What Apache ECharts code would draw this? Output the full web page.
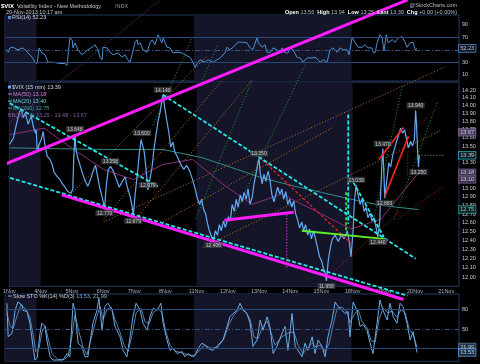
<!DOCTYPE html>
<html><head><meta charset="utf-8">
<script src="https://cdn.jsdelivr.net/npm/echarts@6/dist/echarts.min.js"></script>
<style>html,body{margin:0;padding:0;background:#000;}#c{width:480px;height:364px;}</style>
</head><body><div id="c"></div>
<script>
// ---------------- DATA ----------------
const dayLabels = ['1Nov','4Nov','5Nov','6Nov','7Nov','8Nov','11Nov','12Nov','13Nov','14Nov','15Nov','18Nov','19Nov','20Nov','21Nov'];
const shadedWeeks = [[0,1],[6,11]];
const priceTicks = [12.0,12.1,12.2,12.3,12.4,12.5,12.6,12.7,12.8,12.9,13.0,13.1,13.2,13.3,13.4,13.5,13.6,13.7,13.8,13.9,14.0,14.1,14.2];

// $VIX 15-min closes: [trading-day position, value]
const price = [
[0.00,13.52],[0.06,13.54],[0.13,13.60],[0.22,13.76],[0.32,13.92],[0.38,13.96],[0.44,13.85],[0.51,13.91],[0.60,13.77],[0.70,13.87],[0.76,13.75],[0.83,13.66],[0.86,13.70],[0.89,13.43],[0.95,13.52],
[1.02,13.58],[1.08,13.68],[1.14,13.51],[1.21,13.38],[1.30,13.34],[1.37,13.28],[1.43,13.19],[1.52,13.14],[1.62,13.10],[1.68,13.06],[1.78,13.01],[1.87,12.96],[1.97,12.94],
[2.03,12.99],[2.06,13.34],[2.10,13.648],[2.13,13.46],[2.19,13.36],[2.25,13.29],[2.32,13.20],[2.41,13.10],[2.51,13.02],[2.60,13.10],[2.70,13.22],[2.76,13.27],[2.83,13.13],[2.89,13.01],[2.95,12.93],
[3.05,12.77],[3.11,13.05],[3.17,13.22],[3.24,13.258],[3.33,13.20],[3.43,13.10],[3.52,13.01],[3.62,13.08],[3.71,13.13],[3.78,13.01],[3.87,12.90],[3.94,12.77],[3.97,12.679],
[4.03,12.93],[4.10,13.16],[4.16,13.40],[4.22,13.58],[4.25,13.60],[4.32,13.43],[4.38,13.22],[4.44,12.979],[4.51,13.12],[4.57,13.24],[4.63,13.46],[4.70,13.64],[4.76,13.80],[4.83,13.92],[4.89,14.07],[4.92,14.14],
[4.98,13.97],[5.05,13.80],[5.11,13.67],[5.17,13.49],[5.24,13.55],[5.30,13.43],[5.40,13.36],[5.49,13.28],[5.59,13.22],[5.68,13.27],[5.78,13.20],[5.87,13.10],[5.94,13.01],
[6.03,12.87],[6.10,12.81],[6.16,12.87],[6.22,12.76],[6.29,12.70],[6.35,12.59],[6.41,12.51],[6.48,12.44],[6.54,12.406],[6.60,12.51],[6.67,12.46],[6.73,12.58],[6.79,12.51],[6.86,12.62],[6.92,12.55],
[7.02,12.67],[7.08,12.62],[7.14,12.81],[7.21,12.73],[7.27,12.87],[7.33,12.78],[7.40,12.92],[7.46,12.84],[7.52,12.95],[7.59,12.87],[7.65,12.99],[7.71,12.81],[7.78,12.89],[7.84,13.05],[7.90,13.16],
[7.97,13.31],[8.00,13.35],[8.03,13.20],[8.10,13.05],[8.16,13.16],[8.22,13.08],[8.29,13.20],[8.35,13.10],[8.41,12.93],[8.48,12.84],[8.54,12.93],[8.60,13.01],[8.67,12.93],[8.73,12.99],[8.79,12.87],[8.86,12.96],[8.92,12.81],[8.98,12.87],
[9.05,12.78],[9.11,12.85],[9.17,12.71],[9.24,12.63],[9.30,12.54],[9.37,12.61],[9.43,12.51],[9.49,12.58],[9.56,12.46],[9.62,12.53],[9.68,12.42],[9.75,12.51],[9.81,12.42],[9.87,12.33],[9.94,12.22],
[10.00,12.18],[10.06,12.10],[10.13,12.03],[10.16,11.958],[10.22,12.18],[10.29,12.33],[10.35,12.42],[10.44,12.46],[10.54,12.39],[10.63,12.46],[10.73,12.42],[10.83,12.51],[10.89,12.39],[10.95,12.22],
[11.02,12.53],[11.05,12.81],[11.11,13.039],[11.17,12.93],[11.24,12.81],[11.30,12.87],[11.37,12.73],[11.43,12.78],[11.49,12.66],[11.56,12.71],[11.62,12.62],[11.68,12.66],[11.75,12.55],[11.81,12.44],[11.87,12.62],[11.90,12.95],[11.94,13.30],
[11.97,13.47],[12.00,13.20],[12.03,12.883],[12.10,13.10],[12.16,13.30],[12.22,13.25],[12.29,13.40],[12.35,13.48],[12.41,13.56],[12.48,13.64],[12.54,13.72],[12.60,13.66],[12.67,13.70],[12.73,13.58],[12.79,13.48],[12.86,13.56],[12.92,13.50],[12.98,13.58],
[13.02,13.94],[13.05,13.76],[13.08,13.46],[13.11,13.25],[13.14,13.39]
];
const ma50 = [[0.00,13.64],[1.11,13.72],[2.06,13.46],[3.02,13.22],[3.97,13.10],[4.92,13.28],[5.87,13.34],[6.83,13.05],[7.78,12.81],[8.73,12.93],[10.00,12.70],[10.95,12.53],[11.90,12.64],[13.11,13.18]];
const ma200 = [[0.00,13.48],[1.43,13.47],[3.02,13.46],[4.92,13.46],[6.19,13.36],[7.14,13.24],[8.10,13.12],[9.05,13.03],[10.00,12.95],[10.95,12.87],[11.90,12.80],[13.11,12.75]];

const rsi = [
[0.06,50],[0.10,46],[0.16,53],[0.25,54],[0.41,50],[0.57,53],[0.73,45],[0.86,38],[0.95,30],[1.02,28],[1.08,53],[1.17,45],[1.27,42],[1.37,30],[1.52,30],[1.75,28],[1.90,28],[1.97,25],[2.00,28],
[2.06,69],[2.13,66],[2.16,53],[2.22,61],[2.32,50],[2.44,42],[2.54,46],[2.63,50],[2.76,54],[2.86,58],[2.95,50],[3.02,38],[3.08,34],[3.11,54],[3.24,53],[3.33,46],[3.43,42],[3.59,45],[3.71,38],[3.81,42],[3.90,34],[3.97,30],
[4.03,42],[4.13,62],[4.19,66],[4.22,58],[4.29,61],[4.38,50],[4.51,46],[4.60,61],[4.67,66],[4.76,58],[4.86,74],[4.92,71],[4.98,61],[5.02,69],[5.14,54],[5.24,53],[5.33,45],[5.46,46],[5.62,45],[5.71,42],[5.87,38],[5.97,30],
[6.03,22],[6.10,28],[6.19,34],[6.35,30],[6.44,34],[6.60,30],[6.83,37],[6.98,45],[7.05,54],[7.14,50],[7.24,54],[7.40,62],[7.46,61],[7.56,62],[7.68,61],[7.78,53],[7.87,50],
[8.00,70],[8.03,62],[8.16,54],[8.25,58],[8.32,46],[8.41,45],[8.51,53],[8.63,50],[8.73,46],[8.79,53],[8.89,45],[8.98,45],[9.05,53],[9.14,50],[9.27,38],[9.37,37],[9.46,30],[9.59,37],[9.75,37],[9.84,38],[9.94,34],
[10.00,30],[10.10,34],[10.22,30],[10.32,50],[10.41,53],[10.54,46],[10.63,53],[10.73,50],[10.86,50],[10.92,42],[11.02,70],[11.11,62],[11.21,54],[11.33,54],[11.43,58],[11.52,53],[11.65,53],[11.68,46],[11.75,46],[11.81,61],[11.90,74],[11.97,70],
[12.00,58],[12.03,48],[12.10,74],[12.16,61],[12.29,66],[12.38,62],[12.48,69],[12.60,71],[12.70,62],[12.76,54],[12.86,61],[12.95,62],[13.02,50],[13.08,52.23]
];

const stochK = [
[0.06,90],[0.10,38],[0.22,43],[0.32,79],[0.41,92],[0.54,87],[0.57,79],[0.70,77],[0.79,59],[0.89,23],[0.95,2],[1.02,5],[1.11,43],[1.17,59],[1.27,54],[1.33,33],[1.43,7],[1.52,2],[1.68,2],[1.84,2],[1.97,12],
[2.06,7],[2.16,90],[2.22,79],[2.32,28],[2.44,23],[2.54,7],[2.63,7],[2.79,59],[2.92,79],[2.98,98],[3.08,48],[3.17,85],[3.27,90],[3.40,79],[3.49,54],[3.65,38],[3.75,17],[3.87,7],[3.97,38],
[4.06,69],[4.16,90],[4.29,79],[4.38,59],[4.51,48],[4.60,69],[4.70,82],[4.83,79],[4.95,90],[5.02,59],[5.14,33],[5.24,17],[5.33,20],[5.46,12],[5.62,15],[5.71,7],[5.81,12],[5.94,7],
[6.03,9],[6.13,20],[6.25,28],[6.35,25],[6.44,20],[6.60,17],[6.76,25],[6.92,33],[7.05,54],[7.14,69],[7.24,74],[7.37,79],[7.46,90],[7.56,79],[7.68,74],[7.78,59],[7.87,23],
[8.00,33],[8.10,64],[8.19,48],[8.32,69],[8.41,54],[8.51,12],[8.63,23],[8.79,43],[8.89,54],[8.98,17],[9.11,74],[9.21,23],[9.30,17],[9.43,7],[9.52,28],[9.62,17],[9.75,38],[9.84,12],[9.94,33],
[10.06,23],[10.16,7],[10.25,38],[10.38,64],[10.48,92],[10.57,85],[10.70,79],[10.79,74],[10.89,77],[10.95,38],[11.05,92],[11.17,79],[11.27,54],[11.37,57],[11.49,48],[11.59,28],[11.68,12],[11.81,59],[11.90,95],
[12.00,79],[12.13,64],[12.22,90],[12.32,69],[12.44,59],[12.54,90],[12.63,85],[12.76,59],[12.86,33],[12.95,46],[13.08,13.53]
];
const stochD = [
[0.06,75],[0.16,55],[0.25,50],[0.38,70],[0.51,88],[0.67,80],[0.79,68],[0.89,42],[0.98,15],[1.08,20],[1.17,45],[1.27,55],[1.37,35],[1.49,12],[1.68,3],[1.87,3],[2.00,8],
[2.13,40],[2.22,72],[2.35,45],[2.48,22],[2.60,10],[2.76,40],[2.92,70],[3.02,85],[3.11,65],[3.24,80],[3.37,84],[3.49,65],[3.65,45],[3.78,25],[3.90,15],
[4.03,40],[4.16,75],[4.32,82],[4.44,62],[4.57,58],[4.70,75],[4.86,82],[4.98,75],[5.11,45],[5.24,25],[5.40,16],[5.62,13],[5.81,10],
[6.00,9],[6.19,18],[6.35,25],[6.54,20],[6.76,22],[6.95,35],[7.11,58],[7.27,72],[7.46,82],[7.62,78],[7.78,65],[7.90,38],
[8.03,35],[8.16,52],[8.32,62],[8.44,45],[8.57,25],[8.79,38],[8.92,42],[9.05,45],[9.17,45],[9.30,25],[9.46,12],[9.59,20],[9.75,28],[9.87,22],
[10.00,25],[10.16,15],[10.29,28],[10.41,55],[10.54,82],[10.70,84],[10.86,76],[10.95,60],[11.08,72],[11.21,80],[11.33,62],[11.49,52],[11.62,32],[11.75,30],[11.87,65],
[12.00,82],[12.16,75],[12.29,78],[12.44,68],[12.57,80],[12.70,75],[12.83,50],[12.95,42],[13.08,21.99]
];

// marked swing points: [position, value, text, side]
const swingLabels = [
[4.92,14.14,'14.140','up'],[2.10,13.648,'13.648','up'],[4.25,13.60,'13.600','up'],[3.24,13.258,'13.258','up'],
[4.44,12.979,'12.979','up'],[3.05,12.77,'12.770','down'],[3.97,12.679,'12.679','down'],[6.54,12.406,'12.406','down'],
[8.00,13.35,'13.350','up'],[10.16,11.958,'11.958','down'],[11.11,13.039,'13.039','up'],[11.97,13.47,'13.470','up'],
[12.03,12.883,'12.883','down'],[13.02,13.94,'13.940','up'],[13.11,13.25,'13.250','down'],[11.81,12.44,'12.440','down']
];
// current indicator values shown on the price scale
const mainBoxes = [[13.67,'bb'],[13.18,'ma'],[13.10,'ma'],[12.75,'ma200'],[13.39,'last']];
const lastPrice = 13.39;
const rsiLast = 52.23;
const stochLast = [21.99, 13.53];

// hand-drawn annotation lines, endpoints in [position, value]
const magentaLines = [[[-0.16,13.28],[12.76,15.40]],[[1.68,12.92],[12.63,11.76]],[[6.89,12.63],[9.11,12.72]]];
const magentaDotted = [[[8.89,12.72],[8.89,12.08]]];
const purpleDotted = [[[-0.16,13.73],[4.83,15.40]],[[-0.16,15.03],[0.48,15.40]]];
const cyanDashed = [[[4.92,14.14],[13.02,12.20]],[[-0.16,14.07],[4.76,13.02]],[[-0.16,13.14],[12.76,11.80]],[[10.86,13.89],[10.86,12.59]],[[11.02,13.07],[12.00,12.44]]];
const greenSolid = [[[9.37,12.51],[12.00,12.42]]];
const greenDashed = [[[10.79,12.95],[10.79,12.51]]];
const greenDotted = [[[5.97,12.64],[7.78,14.33]],[[7.14,12.64],[9.52,14.56]],[[11.68,12.64],[12.60,14.26]],[[12.32,12.64],[13.71,14.04]],[[4.60,13.76],[5.87,14.89]],[[6.19,14.33],[6.67,14.79]]];
const orangeDotted = [[[3.02,12.61],[13.97,14.50]],[[6.19,12.32],[13.81,13.69]],[[3.97,12.61],[7.78,14.33]],[[1.97,12.93],[6.35,14.65]],[[3.02,12.64],[6.83,14.33]],[[4.92,12.61],[10.32,13.72]]];
const redSolid = [[[12.03,12.90],[12.79,13.62]],[[11.84,13.34],[12.63,13.73]]];
const redDashed = [[[8.00,13.37],[10.95,12.37]]];
const redDotted = [[[10.41,12.06],[12.54,12.74]],[[12.44,12.64],[13.87,13.01]],[[12.70,13.62],[13.43,13.86]],[[12.76,13.41],[12.76,13.15]]];
const lastPriceLine = [[13.11,13.39],[13.97,13.39]];

// ---------------- CHART ----------------
const L = Math.log;
const FONT = 'Liberation Sans';
const frame = '#243a62';
const band = '#15152a';
const axisTxt = '#c6ccd6';
const chart = echarts.init(document.getElementById('c'), null, {renderer:'canvas', width:480, height:364});

const xAxes = [0,1,2].map(i => ({
  type:'value', gridIndex:i, min:0, max:14.41, interval:1,
  axisLine:{show:false}, axisTick:{show:false}, splitLine:{show:false},
  axisLabel:{show:i===1, formatter:v=>dayLabels[Math.round(v)]||'', fontSize:5.5, fontFamily:FONT, color:'#a9b1bd', margin:2}
}));
const yAxes = [
  {type:'value', gridIndex:0, position:'right', min:0, max:105.6, interval:10,
   axisLine:{show:true, lineStyle:{color:frame}}, axisTick:{show:false}, splitLine:{show:false},
   axisLabel:{formatter:v=>(v%20===10?String(v):''), fontSize:5.5, fontFamily:FONT, color:axisTxt, margin:3}},
  {type:'value', gridIndex:1, position:'right', min:L(11.9), max:L(14.3),
   axisLine:{show:true, lineStyle:{color:frame}}, axisTick:{show:false}, splitLine:{show:false},
   axisLabel:{customValues:priceTicks.map(L), formatter:v=>Math.exp(v).toFixed(2), fontSize:5.5, fontFamily:FONT, color:axisTxt, margin:3}},
  {type:'value', gridIndex:2, position:'right', min:0, max:104.3, interval:10,
   axisLine:{show:true, lineStyle:{color:frame}}, axisTick:{show:false}, splitLine:{show:false},
   axisLabel:{formatter:v=>((v===20||v===50||v===80)?String(v):''), fontSize:5.5, fontFamily:FONT, color:axisTxt, margin:3}}
];

const series = [];
[0,1,2].forEach(i => series.push({
  type:'line', xAxisIndex:i, yAxisIndex:i, data:[[0,i===1?L(13):50]], symbol:'none', lineStyle:{opacity:0}, silent:true, z:0,
  markArea:{silent:true, itemStyle:{color:band}, data:shadedWeeks.map(w=>[{xAxis:w[0]},{xAxis:w[1]}])}
}));
function refLines(i, solid, dashed){
  series.push({type:'line', xAxisIndex:i, yAxisIndex:i, data:[], symbol:'none', silent:true, z:1,
    markLine:{silent:true, symbol:'none', label:{show:false}, animation:false,
      data: solid.map(v=>({yAxis:v, lineStyle:{color:'#2b4a7c', type:'solid', width:1}}))
        .concat(dashed.map(v=>({yAxis:v, lineStyle:{color:'#34537f', type:[5,2,1,2], width:1}})))}});
}
refLines(0,[70,30],[50]);
refLines(2,[80,20],[50]);

series.push({type:'line', xAxisIndex:0, yAxisIndex:0, data:rsi, symbol:'none', silent:true, z:3, lineStyle:{color:'#4b90d2', width:1}});
series.push({type:'line', xAxisIndex:2, yAxisIndex:2, data:stochD, symbol:'none', silent:true, z:3, lineStyle:{color:'#5d7fa8', width:1}});
series.push({type:'line', xAxisIndex:2, yAxisIndex:2, data:stochK, symbol:'none', silent:true, z:3, lineStyle:{color:'#6aaee8', width:1}});

function mainLine(pts, style, z){
  series.push({type:'line', xAxisIndex:1, yAxisIndex:1, data:pts.map(p=>[p[0], L(p[1])]), symbol:'none', silent:true, clip:false, z:z, lineStyle:style});
}
orangeDotted.forEach(s=>mainLine(s,{color:'#c5741c', width:1, type:[1,2]},2));
greenDotted.forEach(s=>mainLine(s,{color:'#1f9e2c', width:1, type:[1,2]},2));
purpleDotted.forEach(s=>mainLine(s,{color:'#9a2aa8', width:1, type:[1,2]},2));
redDotted.forEach(s=>mainLine(s,{color:'#c21a1a', width:1, type:[1,2]},2));
mainLine(ma200,{color:'#2e8c8c', width:1},3);
mainLine(ma50,{color:'#8a2f76', width:1},3);
mainLine(price,{color:'#64aaf0', width:1.2},4);
mainLine(lastPriceLine,{color:'#9aa0a8', width:1, type:[1,2]},4);
redDashed.forEach(s=>mainLine(s,{color:'#e42222', width:1.3, type:[3,2]},5));
redSolid.forEach(s=>mainLine(s,{color:'#ff2424', width:1.6},5));
greenSolid.forEach(s=>mainLine(s,{color:'#5cf02e', width:1.8},5));
greenDashed.forEach(s=>mainLine(s,{color:'#3cff3c', width:1.5, type:[3,2]},5));
magentaDotted.forEach(s=>mainLine(s,{color:'#ff33ff', width:1.2, type:[1,2]},5));
cyanDashed.forEach(s=>mainLine(s,{color:'#26e8e8', width:1.8, type:[4,2]},6));
magentaLines.forEach(s=>mainLine(s,{color:'#ff1cff', width:3},7));

series.push({type:'scatter', xAxisIndex:1, yAxisIndex:1, symbolSize:0, silent:true, clip:false, z:9,
  data: swingLabels.map(s=>({value:[s[0], L(s[1])], label:{show:true, formatter:s[2], position:s[3]==='up'?'top':'bottom', distance:2,
    fontSize:5, fontFamily:FONT, color:'#e8e8e8', backgroundColor:'#3b3d42', padding:[1,1.5,0,1.5]}}))});

const boxStyle = {
  bb:{backgroundColor:'#5a4a72', borderColor:'#7d6a99', color:'#f0eaf8'},
  ma:{backgroundColor:'#4a3a5c', borderColor:'#6c5a84', color:'#efe8f6'},
  ma200:{backgroundColor:'#0c2a2c', borderColor:'#2e9a9a', color:'#bfeeee'},
  last:{backgroundColor:'#0a1622', borderColor:'#35c6d6', color:'#e8f6ff'}
};
const boxX = 14.67;
series.push({type:'scatter', xAxisIndex:1, yAxisIndex:1, symbolSize:0, silent:true, clip:false, z:10,
  data: mainBoxes.map(b=>({value:[boxX, L(b[0])], label:Object.assign({show:true, position:'inside', formatter:b[0].toFixed(2),
    fontSize:5.5, fontFamily:FONT, borderWidth:0.8, padding:[1,1.5,0,1.5]}, boxStyle[b[1]])}))});
series.push({type:'scatter', xAxisIndex:0, yAxisIndex:0, symbolSize:0, silent:true, clip:false, z:10,
  data:[{value:[boxX, rsiLast], label:{show:true, position:'inside', formatter:rsiLast.toFixed(2), fontSize:5.5, fontFamily:FONT,
    color:'#e6eef6', backgroundColor:'#0b1420', borderColor:'#4b90d2', borderWidth:0.8, padding:[1,1.5,0,1.5]}}]});
series.push({type:'scatter', xAxisIndex:2, yAxisIndex:2, symbolSize:0, silent:true, clip:false, z:10,
  data: stochLast.map((v,i)=>({value:[boxX, v], label:{show:true, position:'inside', formatter:v.toFixed(2), fontSize:5.5, fontFamily:FONT,
    color:'#e6eef6', backgroundColor:i===0?'#26364c':'#1a3350', borderColor:i===0?'#5d7fa8':'#6aaee8', borderWidth:0.8, padding:[1,1.5,0,1.5]}}))});

const T = (x,y,text,fill,extra) => ({type:'text', x:x, y:y, silent:true, z:50,
  style:Object.assign({text:text, fill:fill, fontSize:5.5, fontFamily:FONT, verticalAlign:'middle'}, extra||{})});
const R = (x,y,w,h,fill) => ({type:'rect', silent:true, z:50, shape:{x:x,y:y,width:w,height:h}, style:{fill:fill}});

const graphic = [
  T(1,6,'$VIX','#ffffff',{fontWeight:'bold', fontSize:6}),
  T(17,6,'Volatility Index - New Methodology','#c9c9c9'),
  T(115,6,'INDX','#8f959c'),
  T(6,12.5,'20-Nov-2013 10:17 am','#c9c9c9'),
  T(457,5.5,'@StockCharts.com','#b9bec6',{align:'right'}),
  {type:'text', x:457, y:12.5, silent:true, z:50, style:{align:'right', verticalAlign:'middle', fontSize:5.5, fontFamily:FONT, fill:'#b9bec6',
    text:'{b|Open} 13.56  {b|High} 13.94  {b|Low} 13.25  {b|Last} 13.39  {b|Chg} +0.00 (+0.00%)',
    rich:{b:{fontWeight:'bold', fill:'#ffffff', fontSize:5.5, fontFamily:FONT}}}},
  R(8,16,3,3,'#4b90d2'),
  T(12,17.5,'RSI(14) 52.23','#cdd5de'),
  R(8,85.5,3,3,'#64aaf0'),
  T(12,87,'$VIX (15 min) 13.39','#cdd5de'),
  R(8,93.5,4,1,'#d06cc6'),
  T(13,94,'MA(50) 13.18','#d37ccb'),
  R(8,100.5,4,1,'#56c6cc'),
  T(13,101,'MA(20) 13.40','#6ccfd4'),
  R(8,107.5,4,1,'#2e9c9c'),
  T(13,108,'MA(200) 12.75','#3fb0aa'),
  T(8,115,'BB(20,2.0) 13.29 - 13.48 - 13.67','#8a5c9c'),
  R(8,295.5,4,1,'#6aaee8'),
  {type:'text', x:13, y:296, silent:true, z:50, style:{verticalAlign:'middle', fontSize:5.5, fontFamily:FONT, fill:'#cdd5de',
    text:'Slow STO %K(14) %D(3) {k|13.53}, {d|21.99}',
    rich:{k:{fill:'#6aaee8', fontSize:5.5, fontFamily:FONT}, d:{fill:'#aab4c0', fontSize:5.5, fontFamily:FONT}}}}
];

chart.setOption({
  animation:false,
  backgroundColor:'#000000',
  grid:[
    {left:5, right:21, top:15, height:66, show:true, borderColor:frame, borderWidth:1},
    {left:5, right:21, top:82.2, height:204.1, show:true, borderColor:frame, borderWidth:1},
    {left:5, right:21, top:294, height:67.3, show:true, borderColor:frame, borderWidth:1}
  ],
  xAxis:xAxes, yAxis:yAxes, series:series, graphic:graphic
});
</script></body></html>
